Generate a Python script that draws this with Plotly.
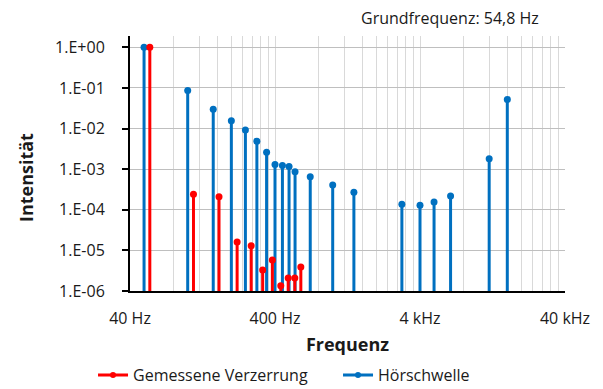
import plotly.graph_objects as go

# Harmonics of the measured signal (fundamental 54.8 Hz) and their relative intensity
distortion_freq = [54.8, 109.6, 164.4, 219.2, 274.0, 328.8, 383.6, 438.4, 493.2, 548.0, 602.8]
distortion_level = [1.0, 2.4e-4, 2.1e-4, 1.6e-5, 1.3e-5, 3.3e-6, 5.8e-6, 1.35e-6, 2.1e-6, 2.1e-6, 3.9e-6]

# Hearing threshold relative to the fundamental
threshold_freq = [50, 100, 150, 200, 250, 300, 350, 400, 450, 500, 550, 700,
                  1000, 1400, 3000, 4000, 5000, 6500, 12000, 16000]
threshold_level = [1.0, 0.087, 0.030, 0.0156, 0.0092, 0.0049, 0.0026, 0.0013, 0.00124,
                   0.00117, 0.00086, 0.00065, 0.00041, 0.00027, 0.000136, 0.000129,
                   0.000156, 0.00022, 0.0018, 0.052]

x_tick_vals = [40, 400, 4000, 40000]
x_tick_text = ["40 Hz", "400 Hz", "4 kHz", "40 kHz"]
y_tick_vals = [1e-6, 1e-5, 1e-4, 1e-3, 1e-2, 1e-1, 1]
y_tick_text = ["1.E-06", "1.E-05", "1.E-04", "1.E-03", "1.E-02", "1.E-01", "1.E+00"]

Y_FLOOR = 1e-6
FONT = "Open Sans"
RED = "#FF0000"
BLUE = "#0070C0"

# minor vertical grid: 2..9 times each decade start
x_minor = [base * k for base in x_tick_vals[:-1] for k in range(2, 10)]


def stems(freqs, levels):
    xs, ys = [], []
    for f, v in zip(freqs, levels):
        xs += [f, f, None]
        ys += [Y_FLOOR, v, None]
    return xs, ys


fig = go.Figure()

series = [
    ("Hörschwelle", threshold_freq, threshold_level, BLUE),
    ("Gemessene Verzerrung", distortion_freq, distortion_level, RED),
]
for name, fx, fy, color in series:
    sx, sy = stems(fx, fy)
    fig.add_trace(go.Scatter(x=sx, y=sy, mode="lines", line=dict(color=color, width=3),
                             showlegend=False, hoverinfo="skip"))
    fig.add_trace(go.Scatter(x=fx, y=fy, mode="markers", name=name,
                             marker=dict(color=color, size=7), showlegend=False))

# legend entries (line with dot)
for name, color in [("Gemessene Verzerrung", RED), ("Hörschwelle", BLUE)]:
    fig.add_trace(go.Scatter(x=[None], y=[None], mode="lines+markers", name=name,
                             line=dict(color=color, width=3),
                             marker=dict(color=color, size=6)))

fig.update_layout(
    width=603, height=389,
    margin=dict(l=130, r=38, t=36, b=98, autoexpand=False),
    paper_bgcolor="white", plot_bgcolor="white",
    font=dict(family=FONT, size=16, color="#1a1a1a"),
    showlegend=True,
    legend=dict(orientation="h", x=-0.085, xanchor="left", y=-0.33, yanchor="middle",
                font=dict(size=16), entrywidth=200, entrywidthmode="pixels",
                traceorder="normal"),
    annotations=[
        dict(text="Grundfrequenz: 54,8 Hz", xref="paper", yref="paper",
             x=0.945, y=1.07, xanchor="right", yanchor="middle", showarrow=False,
             font=dict(size=16)),
        dict(text="<b>Intensität</b>", xref="paper", yref="paper",
             x=-0.239, y=0.443, xanchor="center", yanchor="middle", textangle=-90,
             showarrow=False, font=dict(size=18)),
    ],
)

fig.update_xaxes(
    type="log", range=[1.60206, 4.60206],
    tickmode="array", tickvals=x_tick_vals, ticktext=x_tick_text,
    ticks="", showline=True, linecolor="black", linewidth=2,
    showgrid=True, gridcolor="#D9D9D9", gridwidth=1, zeroline=False,
    ticklabelstandoff=12,
    minor=dict(tickmode="array", tickvals=x_minor, showgrid=True,
               gridcolor="#D9D9D9", gridwidth=1, ticks=""),
    title=dict(text="<b>Frequenz</b>", font=dict(size=18), standoff=10),
)
fig.update_yaxes(
    type="log", range=[-6, 0.28],
    tickmode="array", tickvals=y_tick_vals, ticktext=y_tick_text,
    ticks="outside", ticklen=6, tickwidth=2, tickcolor="black",
    showline=True, linecolor="black", linewidth=2,
    showgrid=True, gridcolor="#BFBFBF", gridwidth=1, zeroline=False,
    ticklabelstandoff=14,
)

fig.write_html("out.html")
